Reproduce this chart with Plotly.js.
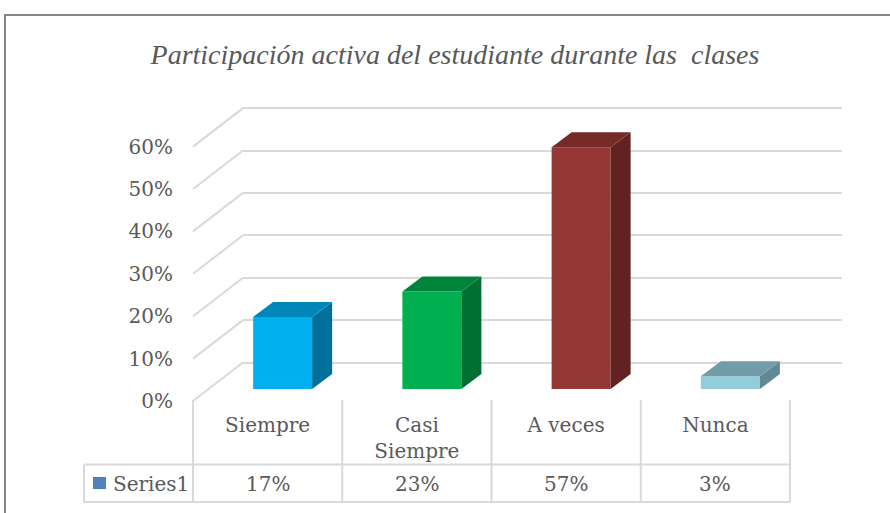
<!DOCTYPE html>
<html><head><meta charset="utf-8">
<script src="https://cdn.plot.ly/plotly-3.0.1.min.js"></script>
<style>html,body{margin:0;padding:0;background:#fff}#chart{width:890px;height:513px}</style>
</head><body><div id="chart"></div>
<script>
// ---- data ----
const categories = ['Siempre', 'Casi Siempre', 'A veces', 'Nunca'];
const categoryLabels = ['Siempre', 'Casi<br>Siempre', 'A veces', 'Nunca'];
const values = [17, 23, 57, 3];
const seriesName = 'Series1';
const yTicks = [0, 10, 20, 30, 40, 50, 60];
const yTickLabels = ['0%', '10%', '20%', '30%', '40%', '50%', '60%'];
const titleText = 'Participación activa del estudiante durante las\u00a0 clases';

// ---- styles ----
const frontColors = ['#00B0F0', '#00B050', '#953735', '#92CDDC'];
const sideColors  = ['#00709C', '#006F31', '#622221', '#628993'];
const topColors   = ['#0086B8', '#00843C', '#762B29', '#729DA8'];
const textColor = '#595959';
const gridColor = '#D9D9D9';
const labelFont = {family: 'DejaVu Serif', size: 20, color: textColor};

// ---- geometry helpers ----
const W = 890, H = 513;
const px = p => p / W, py = p => 1 - p / H;
const K = 4.24;            // pixels per 1 %
const R = [-2, 62];
const CW = 149.25;         // pixels per category
function ydom(zeroPx) { return [py(zeroPx - R[0] * K), py(zeroPx - R[1] * K)]; }
const frontLeft = 193, frontZero = 401;
const backLeft = 243, backZero = 362.5;
const barLeft = 208, barZero = 389;
const barW = 59 / CW, dX = 20 / CW, dY = 15 / K;

const traces = [];
traces.push({x: [], y: [], xaxis: 'x2', yaxis: 'y2', type: 'scatter', showlegend: false});
traces.push({x: [], y: [], xaxis: 'x', yaxis: 'y', type: 'scatter', showlegend: false});
// front faces
traces.push({
  type: 'bar', x: categories.map((c, i) => i), y: values, width: barW,
  xaxis: 'x3', yaxis: 'y3', name: seriesName, showlegend: false,
  marker: {color: frontColors, line: {width: 0}}
});
// side and top faces
values.forEach((v, i) => {
  const r = i + barW / 2, l = i - barW / 2;
  traces.push({
    type: 'scatter', mode: 'lines', fill: 'toself', xaxis: 'x3', yaxis: 'y3',
    x: [r, r + dX, r + dX, r, r], y: [0, dY, v + dY, v, 0],
    fillcolor: sideColors[i], line: {width: 0}, showlegend: false, hoverinfo: 'skip'
  });
  traces.push({
    type: 'scatter', mode: 'lines', fill: 'toself', xaxis: 'x3', yaxis: 'y3',
    x: [l, l + dX, r + dX, r, l], y: [v, v + dY, v + dY, v, v],
    fillcolor: topColors[i], line: {width: 0}, showlegend: false, hoverinfo: 'skip'
  });
});

const shapes = [];
const line = {color: gridColor, width: 2};
yTicks.forEach(t => {
  shapes.push({type: 'line', xref: 'paper', yref: 'paper', layer: 'below',
    x0: px(frontLeft), y0: py(frontZero - K * t), x1: px(backLeft), y1: py(backZero - K * t), line});
});
const tableTop = 400, rowTop = 464.5, rowBottom = 502, tableLeft = 84;
for (let k = 0; k <= categories.length; k++) {
  const x = px(frontLeft + CW * k);
  shapes.push({type: 'line', xref: 'paper', yref: 'paper', layer: 'below',
    x0: x, x1: x, y0: py(tableTop), y1: py(rowBottom), line});
}
shapes.push({type: 'line', xref: 'paper', yref: 'paper', layer: 'below',
  x0: px(tableLeft), x1: px(tableLeft), y0: py(rowTop), y1: py(rowBottom), line});
[rowTop, rowBottom].forEach(yy => shapes.push({type: 'line', xref: 'paper', yref: 'paper', layer: 'below',
  x0: px(tableLeft), x1: px(frontLeft + CW * categories.length), y0: py(yy), y1: py(yy), line}));
shapes.push({type: 'rect', xref: 'paper', yref: 'paper', x0: px(93), x1: px(106), y0: py(489), y1: py(477),
  fillcolor: '#4F81BD', line: {width: 0}});
shapes.push({type: 'rect', xref: 'paper', yref: 'paper', x0: px(5), x1: px(900), y0: py(15), y1: py(530),
  line: {color: '#858585', width: 2}, fillcolor: 'rgba(0,0,0,0)'});

const annotations = values.map((v, i) => ({
  xref: 'x', yref: 'paper', x: i, y: py(484), text: v + '%', showarrow: false,
  font: labelFont, xanchor: 'center', yanchor: 'middle'
}));
annotations.push({xref: 'paper', yref: 'paper', x: px(111), y: py(484), text: seriesName, showarrow: false,
  font: labelFont, xanchor: 'left', yanchor: 'middle'});

const hidden = {showgrid: false, zeroline: false, showline: false, showticklabels: false, ticks: ''};
const layout = {
  width: W, height: H, margin: {l: 0, r: 0, t: 0, b: 0},
  paper_bgcolor: '#fff', plot_bgcolor: 'rgba(0,0,0,0)', hovermode: false, showlegend: false,
  title: {text: '<i>' + titleText + '</i>', x: px(455), y: py(54), xanchor: 'center', yanchor: 'middle',
    font: {family: "'Liberation Serif', 'Times New Roman', Times, serif", size: 28, color: textColor}},
  xaxis: {domain: [px(frontLeft), px(frontLeft + 4 * CW)], range: [-0.5, 3.5], anchor: 'y',
    tickvals: [0, 1, 2, 3], ticktext: categoryLabels, tickfont: labelFont,
    showgrid: false, zeroline: false, showline: false, ticks: '', ticklabelstandoff: 2, fixedrange: true},
  yaxis: {domain: ydom(frontZero), range: R, anchor: 'x', tickvals: yTicks, ticktext: yTickLabels,
    tickfont: labelFont, showgrid: false, zeroline: false, showline: false, ticks: '', ticklabelstandoff: 19, fixedrange: true},
  xaxis2: Object.assign({domain: [px(backLeft), px(backLeft + 4 * CW + 2)], range: [-0.5, 3.5], anchor: 'y2'}, hidden),
  yaxis2: Object.assign({}, hidden, {domain: ydom(backZero), range: R, anchor: 'x2', tickvals: yTicks,
    showgrid: true, gridcolor: gridColor, gridwidth: 2}),
  xaxis3: Object.assign({domain: [px(barLeft), px(barLeft + 4 * CW)], range: [-0.5, 3.5], anchor: 'y3'}, hidden),
  yaxis3: Object.assign({domain: ydom(barZero), range: R, anchor: 'x3'}, hidden),
  shapes, annotations
};
Plotly.newPlot('chart', traces, layout, {staticPlot: true, displayModeBar: false});
</script></body></html>
